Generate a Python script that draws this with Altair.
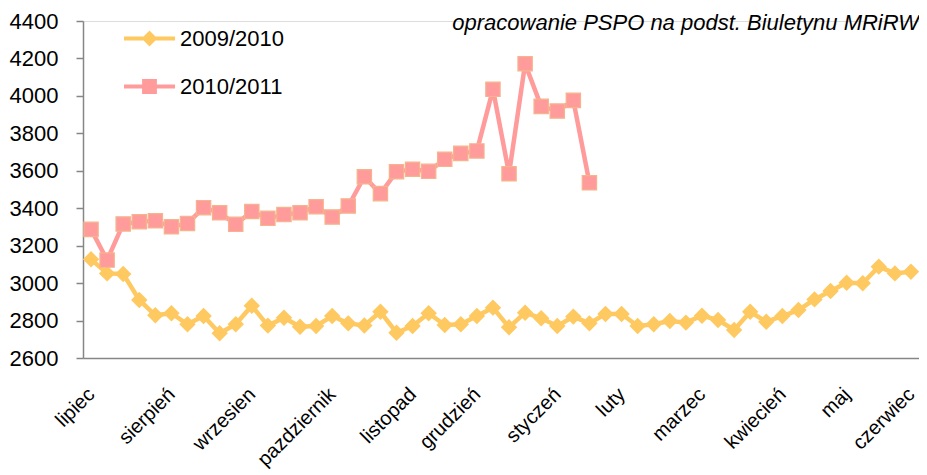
import altair as alt
import pandas as pd

series_names = ["2009/2010", "2010/2011"]
series_colors = ["#FFC962", "#FF9B9B"]

y_0910 = [3127, 3052, 3049, 2910, 2828, 2839, 2780, 2824, 2732, 2780,
          2879, 2773, 2815, 2767, 2771, 2824, 2785, 2774, 2847, 2735,
          2771, 2839, 2776, 2780, 2824, 2869, 2764, 2842, 2812, 2771,
          2821, 2785, 2835, 2835, 2771, 2780, 2798, 2789, 2826, 2803,
          2750, 2847, 2794, 2824, 2856, 2913, 2958, 3002, 2999, 3088,
          3052, 3061]
y_1011 = [3287, 3123, 3316, 3328, 3333, 3301, 3319, 3403, 3376, 3314,
          3383, 3346, 3366, 3376, 3408, 3353, 3412, 3568, 3478, 3595,
          3608, 3597, 3661, 3693, 3706, 4035, 3584, 4172, 3944, 3919,
          3976, 3536]

month_labels = ["lipiec", "sierpień", "wrzesien", "pazdziernik", "listopad",
                "grudzień", "styczeń", "luty", "marzec", "kwiecień", "maj",
                "czerwiec"]
month_weeks = [0, 5, 10, 15, 20, 24, 29, 33, 38, 43, 47, 51]
y_ticks = [2600, 2800, 3000, 3200, 3400, 3600, 3800, 4000, 4200, 4400]

source_text = "opracowanie PSPO na podst. Biuletynu MRiRW"

rows = []
for i, v in enumerate(y_0910):
    rows.append({"week": i, "value": v, "series": series_names[0]})
for i, v in enumerate(y_1011):
    rows.append({"week": i, "value": v, "series": series_names[1]})
df = pd.DataFrame(rows)

FONT = "Liberation Sans"
PLOT_W = 836
PLOT_H = 337

pos_js = "[" + ",".join(str(w) for w in month_weeks) + "]"
lab_js = "[" + ",".join("'" + m + "'" for m in month_labels) + "]"
label_expr = f"indexof({pos_js}, datum.value) >= 0 ? {lab_js}[indexof({pos_js}, datum.value)] : ''"

x_enc = alt.X("week:Q",
              scale=alt.Scale(domain=[-0.5, 51.5], nice=False, zero=False),
              axis=alt.Axis(values=month_weeks, labelExpr=label_expr,
                            labelAngle=315, labelAlign="right",
                            labelBaseline="middle", labelPadding=33,
                            ticks=False, grid=False, domainColor="#868686",
                            domainWidth=1.5, labelFontSize=20,
                            labelColor="black", labelFont=FONT,
                            labelOverlap=False, labelFlush=False,
                            labelBound=False, title=None))
y_enc = alt.Y("value:Q",
              scale=alt.Scale(domain=[2600, 4400], nice=False, zero=False),
              axis=alt.Axis(values=y_ticks, format="d", tickSize=7,
                            tickColor="#868686", domainColor="#868686",
                            domainWidth=1.5, tickWidth=1.5,
                            labelFontSize=22, labelColor="black",
                            labelFont=FONT, labelPadding=18, grid=False,
                            labelOverlap=False, labelFlush=False,
                            labelBound=False, title=None))

color_scale = alt.Scale(domain=series_names, range=series_colors)

P_DIAMOND = "M-1,-0.08H1V0.08H-1Z M-0.31,0L0,-0.31L0.31,0L0,0.31Z"
P_SQUARE = "M-1,-0.08H1V0.08H-1Z M-0.29,-0.29H0.29V0.29H-0.29Z"

legend = alt.Legend(orient="none", legendX=41, legendY=-8, title=None,
                    direction="vertical", symbolSize=2601,
                    symbolStrokeWidth=0, symbolOpacity=1,
                    labelFontSize=22, labelFont=FONT, labelColor="black",
                    labelOffset=5, rowPadding=11)

base = alt.Chart(df)
yellow_data = base.transform_filter(alt.datum.series == series_names[0])
pink_data = base.transform_filter(alt.datum.series == series_names[1])

line_y = yellow_data.mark_line(strokeWidth=4.5, strokeJoin="round",
                               color=series_colors[0]).encode(x=x_enc, y=y_enc)
line_p = pink_data.mark_line(strokeWidth=4.5, strokeJoin="round",
                             color=series_colors[1]).encode(x=x_enc, y=y_enc)
diamonds = yellow_data.mark_point(shape="diamond", filled=True, size=270,
                                  opacity=1, color=series_colors[0]).encode(
    x=x_enc, y=y_enc)
squares = pink_data.mark_point(shape="square", filled=True, size=205,
                               opacity=1, color=series_colors[1],
                               stroke="#F5B48C", strokeWidth=1.2).encode(
    x=x_enc, y=y_enc)

legend_layer = base.transform_filter("false").mark_point(
    filled=True, opacity=1).encode(
    color=alt.Color("series:N", scale=color_scale, legend=legend),
    shape=alt.Shape("series:N",
                    scale=alt.Scale(domain=series_names,
                                    range=[P_DIAMOND, P_SQUARE]),
                    legend=legend),
)

# source note at the top right (annotation, not data)
note = alt.Chart(pd.DataFrame({"note": [source_text]})).mark_text(
    align="right", baseline="alphabetic", fontSize=22, fontStyle="italic",
    font=FONT, color="black",
).encode(x=alt.value(PLOT_W), y=alt.value(9), text="note:N")

chart = alt.layer(legend_layer, line_y, diamonds, line_p, squares, note).properties(
    width=PLOT_W, height=PLOT_H,
    autosize=alt.AutoSizeParams(type="none"),
    padding={"left": 75, "top": 13, "right": 0, "bottom": 117},
).configure_view(stroke=None).configure(background="white")

chart.save("out.html", embed_options={"renderer": "svg", "actions": False})
